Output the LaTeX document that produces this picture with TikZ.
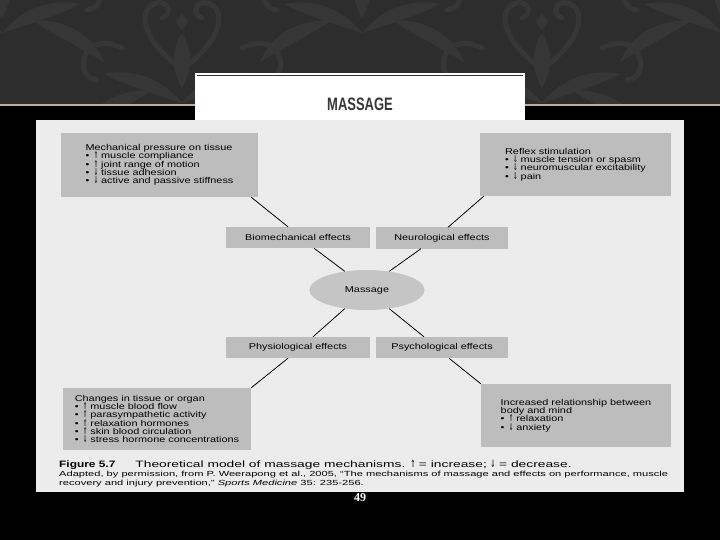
\documentclass[tikz,border=0pt]{standalone}
\usepackage{fontspec}
\usepackage{graphicx}
\usetikzlibrary{shapes.geometric}
\newfontfamily\scanfont[FakeStretch=1.28]{Liberation Sans}
\newfontfamily\widefont[FakeStretch=1.5]{Liberation Sans}
\newfontfamily\titlefont[FakeStretch=0.72]{Liberation Sans}
\newfontfamily\symfont{DejaVu Sans}
\newfontfamily\pagefont{Liberation Serif}
\newcommand{\incr}{\smash{\symfont\scalebox{0.6}[1.1]{⇑}}}
\newcommand{\decr}{\smash{\symfont\scalebox{0.6}[1.1]{⇓}}}
\newcommand{\itemup}{\textbullet\hspace{4.5pt}\incr\hspace{3pt}}
\newcommand{\itemdown}{\textbullet\hspace{4.5pt}\decr\hspace{3pt}}
\definecolor{bandgray}{HTML}{2D2D2D}
\definecolor{motifgray}{HTML}{363636}
\definecolor{tanline}{HTML}{B5B09A}
\definecolor{paper}{HTML}{ECECEC}
\definecolor{boxgray}{HTML}{BDBDBD}
\definecolor{ovalgray}{HTML}{C5C5C5}
\tikzset{
  effectbox/.style={fill=boxgray, minimum width=144pt, minimum height=21pt, inner sep=0pt,
    font=\scanfont\fontsize{8.5}{8.3}\selectfont},
  listbox/.style={fill=boxgray, align=left, inner sep=0pt,
    font=\scanfont\fontsize{8.5}{8.3}\selectfont},
  link/.style={black, line width=0.8pt},
}
\begin{document}
\begin{tikzpicture}[x=1pt,y=-1pt]
                % slide background
                \fill[black] (0,0) rectangle (720,540);
                \fill[bandgray] (0,0) rectangle (720,104);
                \begin{scope}
                    \clip (0,0) rectangle (720,104);
                    \foreach \cx/\cy in {182/8, 542/8, 2/-62, 362/-62, 722/-62} {
                        \begin{scope}[shift={(\cx,\cy)}]
                            \fill[motifgray] (0,25) .. controls (-10,40) and (-12,60) .. (0,80) .. controls (12,60) and (10,40) .. (0,25);
                            \fill[motifgray] (0,5) -- (-6,14) -- (0,23) -- (6,14) -- cycle;
                            \foreach \s in {1,-1} {
                                \begin{scope}[xscale=\s]
                                    \fill[motifgray] (0,95) .. controls (-20,70) and (-50,60) .. (-78,66) .. controls (-55,78) and (-30,85) .. (0,95);
                                    \draw[motifgray, line width=5pt, line cap=round] (-8,55) .. controls (-40,30) and (-45,0) .. (-25,-5) .. controls (-15,-8) and (-8,5) .. (-20,10);
                                    \fill[motifgray] (-30,82) .. controls (-70,82) and (-92,100) .. (-102,124) .. controls (-72,106) and (-50,96) .. (-30,82);
                                    \draw[motifgray, line width=5pt, line cap=round] (-60,40) .. controls (-100,20) and (-110,70) .. (-85,72);
                                \end{scope}
                            }
                        \end{scope}
                    }
                \end{scope}
                \fill[tanline] (0,104) rectangle (720,106);
                % title
                \node[fill=white, minimum width=330pt, minimum height=47pt, inner sep=0pt] (titlebox) at (360,96.5) {};
                \draw[black!80, line width=1pt] ([xshift=2pt,yshift=-2.5pt]titlebox.north west) -- ([xshift=-2pt,yshift=-2.5pt]titlebox.north east);
                \node[font=\titlefont\bfseries\fontsize{18}{18}\selectfont, text=black!78] (title) at (360,104.5) {MASSAGE};
                % scanned figure
                \fill[paper] (36,120) rectangle (684,492);
                \node[listbox, minimum width=197pt, minimum height=64pt] (tissue) at (159.5,165) {Mechanical pressure on tissue\\
                    \itemup muscle compliance\\
                    \itemup joint range of motion\\
                    \itemdown tissue adhesion\\
                    \itemdown active and passive stiffness};
                \node[listbox, minimum width=191pt, minimum height=63pt] (reflex) at (575.5,164.5) {Reflex stimulation\\
                    \itemdown muscle tension or spasm\\
                    \itemdown neuromuscular excitability\\
                    \itemdown pain};
                \node[effectbox] (bio) at (298,237.5) {Biomechanical effects};
                \node[effectbox, minimum width=132pt] (neuro) at (442,238) {Neurological effects};
                \node[ellipse, fill=ovalgray, minimum width=115pt, minimum height=40pt, inner sep=0pt,
                    font=\scanfont\fontsize{8.5}{8.3}\selectfont] (massage) at (367,290) {Massage};
                \node[effectbox] (physio) at (298,347.5) {Physiological effects};
                \node[effectbox, minimum width=132pt] (psych) at (442,347.5) {Psychological effects};
                \node[listbox, minimum width=188pt, minimum height=62pt] (organ) at (157,419) {Changes in tissue or organ\\
                    \itemup muscle blood flow\\
                    \itemup parasympathetic activity\\
                    \itemup relaxation hormones\\
                    \itemup skin blood circulation\\
                    \itemdown stress hormone concentrations};
                \node[listbox, minimum width=190pt, minimum height=63pt] (mind) at (576,415.5) {Increased relationship between\\
                    body and mind\\
                    \itemup relaxation\\
                    \itemdown anxiety};
                % connectors
                \draw[link] ([xshift=-7pt]tissue.south east) -- ([xshift=-10pt]bio.north);
                \draw[link] ([xshift=16pt]bio.south) -- (massage.140);
                \draw[link] ([xshift=6pt]neuro.north) -- ([xshift=4pt]reflex.south west);
                \draw[link] ([xshift=-21pt]neuro.south) -- (massage.40);
                \draw[link] (massage.220) -- ([xshift=15pt]physio.north);
                \draw[link] ([xshift=-10pt]physio.south) -- (organ.north east);
                \draw[link] (massage.-40) -- ([xshift=-18pt]psych.north);
                \draw[link] ([xshift=7pt]psych.south) -- (mind.north west);
                % caption
                \node[anchor=base west, inner sep=0pt, font=\widefont\fontsize{9.2}{10}\selectfont] (caption) at (59,467.5)
                    {{\scanfont\bfseries\fontsize{9.3}{10}\selectfont Figure 5.7}\hspace{20pt}Theoretical model of massage mechanisms. \incr\ = increase; \decr\ = decrease.};
                \node[anchor=base west, inner sep=0pt, font=\widefont\fontsize{7.4}{8}\selectfont] (source) at (59,476.5)
                    {Adapted, by permission, from P. Weerapong et al., 2005, “The mechanisms of massage and effects on performance, muscle};
                \node[anchor=base west, inner sep=0pt, font=\widefont\fontsize{7.4}{8}\selectfont] (source2) at (59,485)
                    {recovery and injury prevention,” \textit{Sports Medicine} 35: 235-256.};
                \node[font=\pagefont\bfseries\fontsize{12}{12}\selectfont, text=white] (pagenum) at (360,497.5) {49};
\end{tikzpicture}
\end{document}
